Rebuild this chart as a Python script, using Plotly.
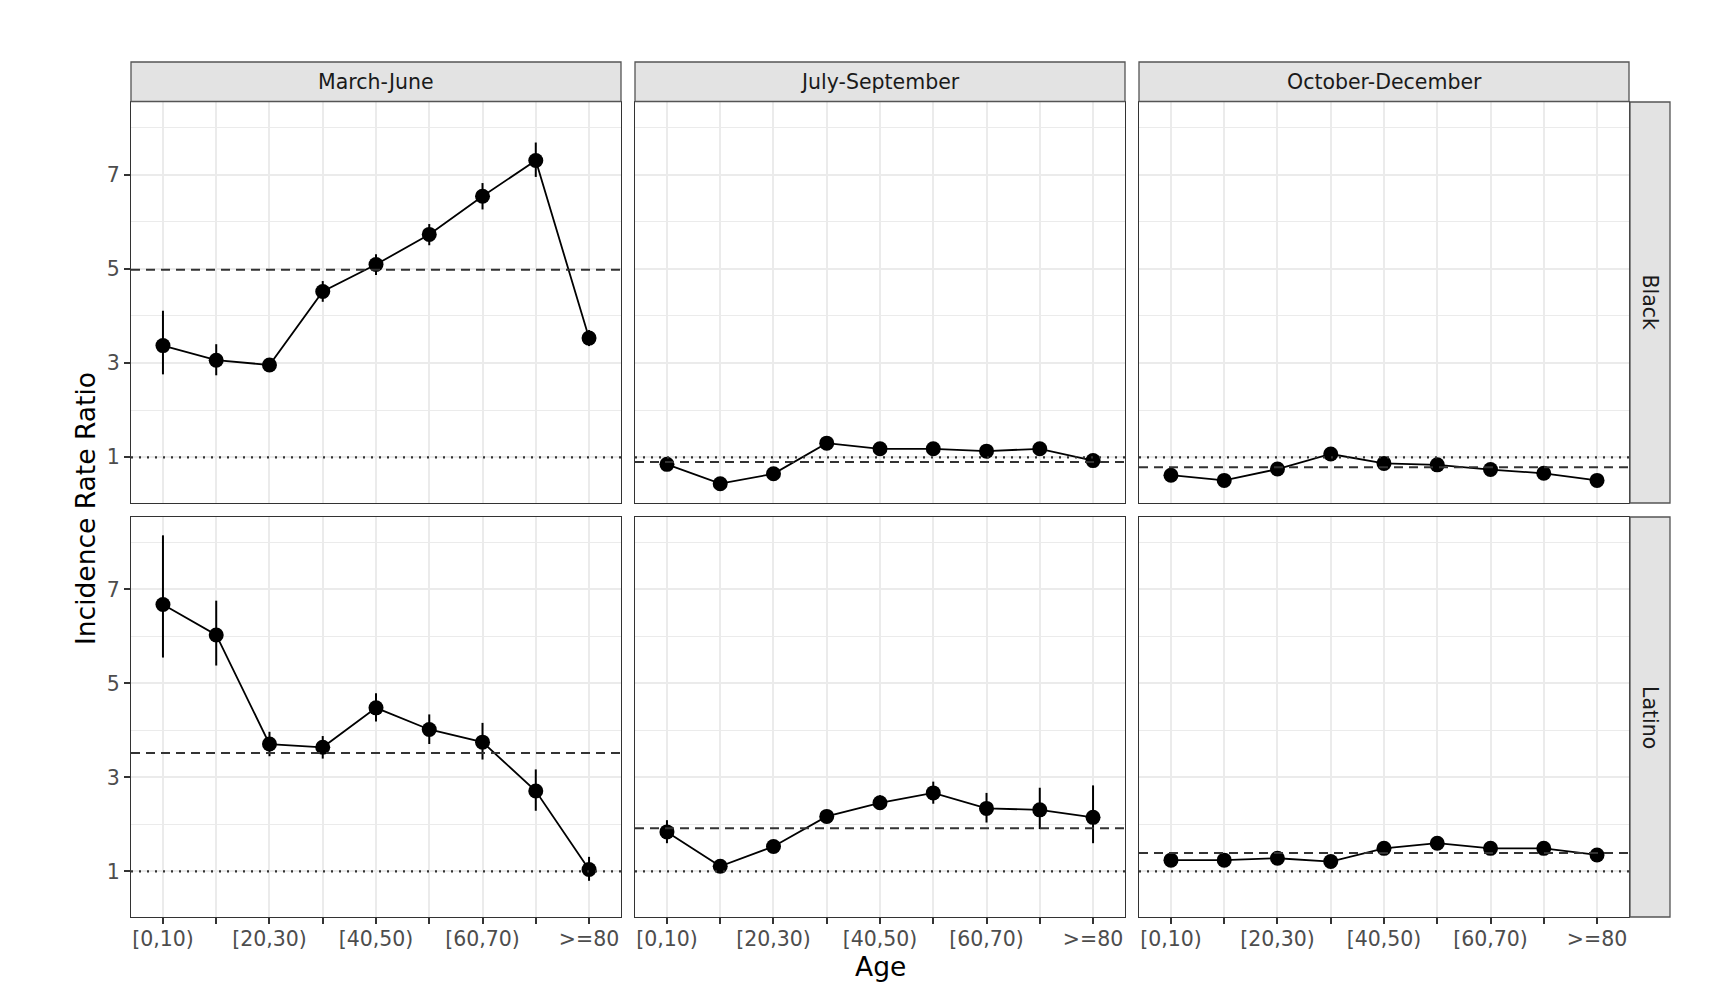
import plotly.graph_objects as go

# page body has an 8px default margin; size the figure and offset coordinates accordingly
OFF = 8
W, H = 1714 - OFF, 994 - OFF

age_groups = ["[0,10)", "[10,20)", "[20,30)", "[30,40)", "[40,50)",
              "[50,60)", "[60,70)", "[70,80)", ">=80"]
tick_text = ["[0,10)", "", "[20,30)", "", "[40,50)", "", "[60,70)", "", ">=80"]
periods = ["March-June", "July-September", "October-December"]
groups = ["Black", "Latino"]

# Black
black_mj = [3.37, 3.06, 2.96, 4.52, 5.09, 5.73, 6.54, 7.30, 3.53]
black_mj_lo = [2.76, 2.74, 2.90, 4.30, 4.87, 5.50, 6.26, 6.95, 3.36]
black_mj_hi = [4.11, 3.40, 3.02, 4.74, 5.31, 5.95, 6.82, 7.68, 3.70]
black_js = [0.85, 0.44, 0.65, 1.30, 1.18, 1.18, 1.13, 1.18, 0.93]
black_js_lo = [0.80, 0.41, 0.61, 1.25, 1.14, 1.13, 1.08, 1.12, 0.87]
black_js_hi = [0.90, 0.47, 0.69, 1.35, 1.22, 1.23, 1.18, 1.24, 0.99]
black_od = [0.62, 0.51, 0.75, 1.07, 0.87, 0.84, 0.74, 0.66, 0.51]
black_od_lo = [0.58, 0.47, 0.72, 1.03, 0.84, 0.81, 0.71, 0.63, 0.48]
black_od_hi = [0.66, 0.55, 0.78, 1.11, 0.90, 0.87, 0.77, 0.69, 0.54]

# Latino
latino_mj = [6.68, 6.03, 3.71, 3.64, 4.48, 4.02, 3.75, 2.71, 1.04]
latino_mj_lo = [5.55, 5.38, 3.45, 3.40, 4.19, 3.71, 3.38, 2.29, 0.80]
latino_mj_hi = [8.15, 6.76, 3.97, 3.88, 4.79, 4.34, 4.16, 3.17, 1.31]
latino_js = [1.84, 1.11, 1.53, 2.17, 2.46, 2.67, 2.34, 2.31, 2.15]
latino_js_lo = [1.60, 1.06, 1.48, 2.11, 2.31, 2.44, 2.04, 1.90, 1.60]
latino_js_hi = [2.09, 1.16, 1.58, 2.23, 2.62, 2.91, 2.67, 2.78, 2.83]
latino_od = [1.24, 1.24, 1.28, 1.21, 1.49, 1.60, 1.49, 1.49, 1.35]
latino_od_lo = [1.20, 1.20, 1.24, 1.17, 1.44, 1.55, 1.44, 1.44, 1.31]
latino_od_hi = [1.28, 1.28, 1.32, 1.25, 1.54, 1.65, 1.54, 1.54, 1.39]

# Dashed reference (overall) lines per panel
overall_black = [4.98, 0.90, 0.79]
overall_latino = [3.52, 1.92, 1.39]
null_value = 1.0

series = {
    ("Black", 0): (black_mj, black_mj_lo, black_mj_hi),
    ("Black", 1): (black_js, black_js_lo, black_js_hi),
    ("Black", 2): (black_od, black_od_lo, black_od_hi),
    ("Latino", 0): (latino_mj, latino_mj_lo, latino_mj_hi),
    ("Latino", 1): (latino_js, latino_js_lo, latino_js_hi),
    ("Latino", 2): (latino_od, latino_od_lo, latino_od_hi),
}
overall = {"Black": overall_black, "Latino": overall_latino}

# Layout geometry (page pixels)
col_px = [(131, 621), (635, 1125), (1139, 1629)]
row_px = [(102, 503), (517, 917)]
yrange = [0.03, 8.54]


def px(x):
    return (x - OFF) / W


def py(y):
    return 1 - (y - OFF) / H


FONT = "DejaVu Sans"
GRID = "#EBEBEB"
BORDER = "#333333"
TICK_SIZE = 20.5
TITLE_SIZE = 26.5

fig = go.Figure()
layout = dict(
    width=W, height=H,
    margin=dict(l=0, r=0, t=0, b=0),
    paper_bgcolor="white", plot_bgcolor="white",
    showlegend=False,
    font=dict(family=FONT, color="#1A1A1A"),
)
shapes = []
annotations = []

idx = 0
for r, grp in enumerate(groups):
    for c, per in enumerate(periods):
        idx += 1
        xa = "x" if idx == 1 else f"x{idx}"
        ya = "y" if idx == 1 else f"y{idx}"
        xkey = "xaxis" if idx == 1 else f"xaxis{idx}"
        ykey = "yaxis" if idx == 1 else f"yaxis{idx}"
        x0, x1 = col_px[c]
        y0, y1 = row_px[r]
        bottom = (r == len(groups) - 1)
        left = (c == 0)
        layout[xkey] = dict(
            domain=[px(x0), px(x1)], anchor=ya,
            type="category", categoryorder="array", categoryarray=age_groups,
            range=[-0.6, 8.6], tickvals=age_groups, ticktext=tick_text,
            showgrid=True, gridcolor=GRID, gridwidth=1.6,
            showline=True, linecolor=BORDER, linewidth=1.3, mirror=True,
            ticks="outside" if bottom else "", ticklen=6, tickwidth=1.6, tickcolor=BORDER,
            showticklabels=bottom, ticklabelstandoff=-3,
            tickfont=dict(family=FONT, size=TICK_SIZE, color="#4D4D4D"),
            zeroline=False,
        )
        layout[ykey] = dict(
            domain=[py(y1), py(y0)], anchor=xa,
            range=yrange, tickvals=[1, 3, 5, 7],
            showgrid=True, gridcolor=GRID, gridwidth=1.6,
            minor=dict(tickvals=[2, 4, 6, 8], showgrid=True, gridcolor=GRID, gridwidth=1),
            showline=True, linecolor=BORDER, linewidth=1.3, mirror=True,
            ticks="outside" if left else "", ticklen=6, tickwidth=1.6, tickcolor=BORDER,
            showticklabels=left,
            tickfont=dict(family=FONT, size=TICK_SIZE, color="#4D4D4D"),
            zeroline=False,
        )
        vals, lo, hi = series[(grp, c)]
        fig.add_trace(go.Scatter(
            x=age_groups, y=vals, xaxis=xa, yaxis=ya,
            mode="lines+markers",
            line=dict(color="black", width=1.8),
            marker=dict(color="black", size=15),
            error_y=dict(type="data", symmetric=False,
                         array=[h - v for h, v in zip(hi, vals)],
                         arrayminus=[v - l for v, l in zip(vals, lo)],
                         color="black", thickness=2, width=0),
            hoverinfo="skip",
        ))
        # reference lines
        shapes.append(dict(type="line", xref=f"{xa} domain", yref=ya,
                           x0=0, x1=1, y0=overall[grp][c], y1=overall[grp][c],
                           line=dict(color="#333333", width=2, dash="9px,6px"), layer="above"))
        shapes.append(dict(type="line", xref=f"{xa} domain", yref=ya,
                           x0=0, x1=1, y0=null_value, y1=null_value,
                           line=dict(color="#333333", width=2.2, dash="2px,6px"), layer="above"))

# Top strips
for c, per in enumerate(periods):
    x0, x1 = col_px[c]
    shapes.append(dict(type="rect", xref="paper", yref="paper",
                       x0=px(x0), x1=px(x1), y0=py(101.5), y1=py(62),
                       fillcolor="#E3E3E3", line=dict(color="#555555", width=1.3)))
    annotations.append(dict(text=per, xref="paper", yref="paper",
                            x=px((x0 + x1) / 2), y=py(81.5), showarrow=False,
                            font=dict(family=FONT, size=TICK_SIZE, color="#1A1A1A"),
                            xanchor="center", yanchor="middle"))
# Right strips
for r, grp in enumerate(groups):
    y0, y1 = row_px[r]
    shapes.append(dict(type="rect", xref="paper", yref="paper",
                       x0=px(1630), x1=px(1670), y0=py(y1), y1=py(y0),
                       fillcolor="#E3E3E3", line=dict(color="#555555", width=1.3)))
    annotations.append(dict(text=grp, xref="paper", yref="paper",
                            x=px(1650), y=py((y0 + y1) / 2), showarrow=False,
                            textangle=90,
                            font=dict(family=FONT, size=TICK_SIZE, color="#1A1A1A"),
                            xanchor="center", yanchor="middle"))

# Axis titles
annotations.append(dict(text="Age", xref="paper", yref="paper",
                        x=px(880), y=py(966), showarrow=False,
                        font=dict(family=FONT, size=TITLE_SIZE, color="black"),
                        xanchor="center", yanchor="middle"))
annotations.append(dict(text="Incidence Rate Ratio", xref="paper", yref="paper",
                        x=px(85), y=py(509), showarrow=False, textangle=-90,
                        font=dict(family=FONT, size=TITLE_SIZE, color="black"),
                        xanchor="center", yanchor="middle"))

layout["shapes"] = shapes
layout["annotations"] = annotations
fig.update_layout(**layout)
fig.write_html("out.html")
